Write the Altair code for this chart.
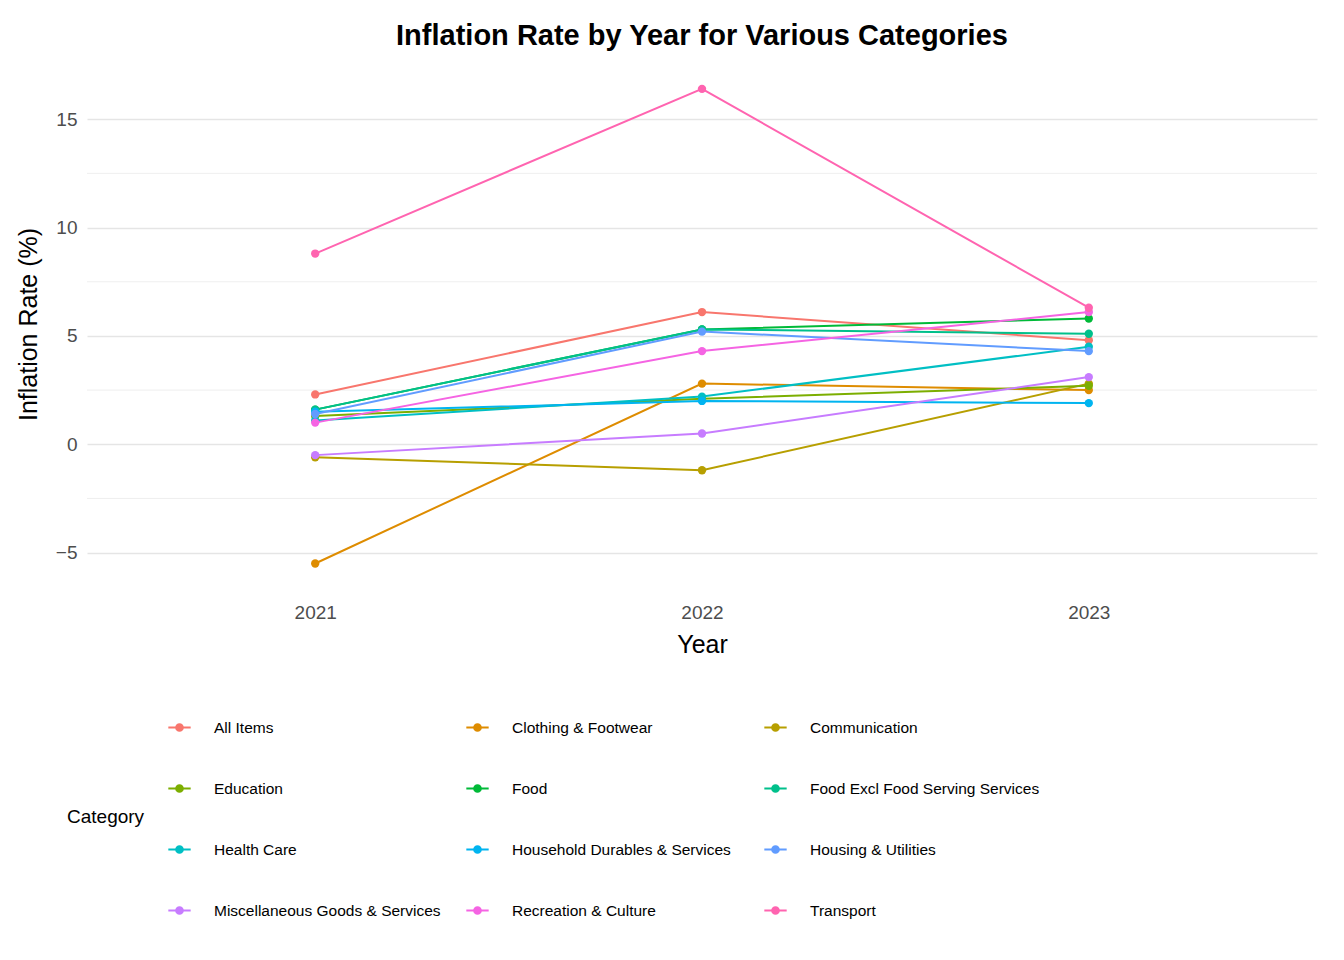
import altair as alt
import pandas as pd

years = ["2021", "2022", "2023"]
categories = [
    "All Items", "Clothing & Footwear", "Communication", "Education", "Food",
    "Food Excl Food Serving Services", "Health Care", "Household Durables & Services",
    "Housing & Utilities", "Miscellaneous Goods & Services", "Recreation & Culture", "Transport",
]
rates = [
    [2.3, 6.1, 4.8],
    [-5.5, 2.8, 2.5],
    [-0.6, -1.2, 2.8],
    [1.3, 2.1, 2.7],
    [1.6, 5.3, 5.8],
    [1.6, 5.3, 5.1],
    [1.1, 2.2, 4.5],
    [1.5, 2.0, 1.9],
    [1.4, 5.2, 4.3],
    [-0.5, 0.5, 3.1],
    [1.0, 4.3, 6.1],
    [8.8, 16.4, 6.3],
]
colors = ["#F8766D", "#DE8C00", "#B79F00", "#7CAE00", "#00BA38", "#00C08B",
          "#00BFC4", "#00B4F0", "#619CFF", "#C77CFF", "#F564E3", "#FF64B0"]
minor_grid = [-2.5, 2.5, 7.5, 12.5]

df = pd.DataFrame(
    [{"Year": y, "Category": c, "Rate": r[i]} for c, r in zip(categories, rates) for i, y in enumerate(years)]
)

x = alt.X("Year:O", title="Year", scale=alt.Scale(type="point", padding=0.59),
          axis=alt.Axis(labelAngle=0, labelPadding=20, titlePadding=10))
y = alt.Y("Rate:Q", title="Inflation Rate (%)",
          scale=alt.Scale(domain=[-6.4, 17.5], nice=False, zero=False),
          axis=alt.Axis(values=[-5, 0, 5, 10, 15], labelPadding=10, titlePadding=14))
color = alt.Color(
    "Category:N", scale=alt.Scale(domain=categories, range=colors),
    legend=alt.Legend(
        orient="none", legendX=-20, legendY=650, columns=3, direction="horizontal",
        title="Category", titleOrient="left", titleAnchor="middle", titleFontSize=19,
        titleFontWeight="normal", titlePadding=22, labelFontSize=15.5, labelLimit=400,
        rowPadding=40, columnPadding=18, symbolType="M-1,0H1M-0.3,0A0.3,0.3 0 1,0 0.3,0A0.3,0.3 0 1,0 -0.3,0",
        symbolSize=500, symbolStrokeWidth=2, labelOffset=22, symbolLimit=12,
        gridAlign="all", labelColor="black", titleColor="black",
    ),
)

minor = alt.Chart(pd.DataFrame({"v": minor_grid})).mark_rule(
    color="#ebebeb", strokeWidth=0.8
).encode(y=alt.Y("v:Q", scale=alt.Scale(domain=[-6.4, 17.5], nice=False)))

lines = alt.Chart(df).mark_line(strokeWidth=2).encode(x=x, y=y, color=color)
points = alt.Chart(df).mark_circle(size=70, opacity=1).encode(x=x, y=y, color=color)

chart = (minor + lines + points).properties(
    width=1230, height=518,
    padding={"left": 8, "top": 14, "right": 5, "bottom": 5},
    title=alt.TitleParams("Inflation Rate by Year for Various Categories",
                          fontSize=29, fontWeight="bold", anchor="middle", color="black",
                          offset=14),
).configure(font="Liberation Sans").configure_view(stroke=None).configure_axis(
    domain=False, ticks=False, gridColor="#e5e5e5", gridWidth=1.6,
    labelFontSize=19, labelColor="#4d4d4d", titleFontSize=25, titleFontWeight="normal",
    titleColor="black",
).configure_legend(labelFont="Liberation Sans")

chart.save("out.html", embed_options={"renderer": "svg", "actions": False})
